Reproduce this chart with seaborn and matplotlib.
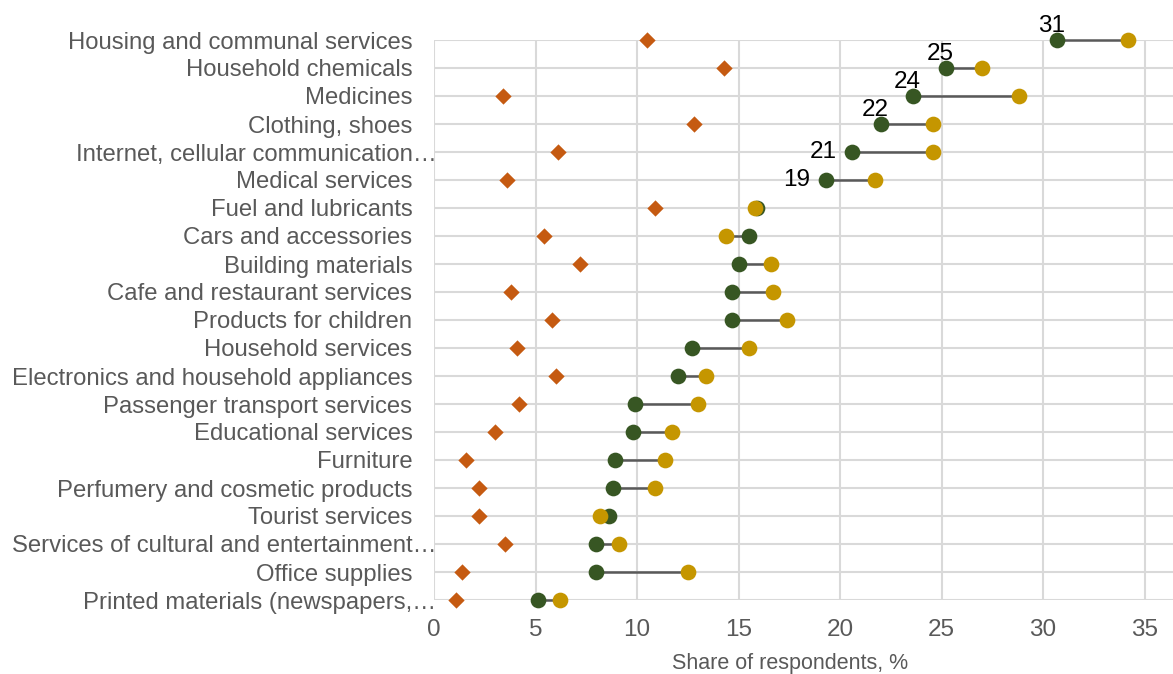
import matplotlib
matplotlib.use("Agg")
import matplotlib.pyplot as plt
import matplotlib.transforms as mtransforms
import seaborn as sns
import pandas as pd
import numpy as np

categories = [
    "Housing and communal services",
    "Household chemicals",
    "Medicines",
    "Clothing, shoes",
    "Internet, cellular communication…",
    "Medical services",
    "Fuel and lubricants",
    "Cars and accessories",
    "Building materials",
    "Cafe and restaurant services",
    "Products for children",
    "Household services",
    "Electronics and household appliances",
    "Passenger transport services",
    "Educational services",
    "Furniture",
    "Perfumery and cosmetic products",
    "Tourist services",
    "Services of cultural and entertainment…",
    "Office supplies",
    "Printed materials (newspapers,…",
]
green_vals = [30.7, 25.2, 23.6, 22.0, 20.6, 19.3, 15.9, 15.5, 15.0, 14.7, 14.7,
              12.7, 12.0, 9.9, 9.8, 8.9, 8.8, 8.6, 8.0, 8.0, 5.1]
gold_vals = [34.2, 27.0, 28.8, 24.6, 24.6, 21.7, 15.8, 14.4, 16.6, 16.7, 17.4,
             15.5, 13.4, 13.0, 11.7, 11.4, 10.9, 8.2, 9.1, 12.5, 6.2]
diamond_vals = [10.5, 14.3, 3.4, 12.8, 6.1, 3.6, 10.9, 5.4, 7.2, 3.8, 5.8,
                4.1, 6.0, 4.2, 3.0, 1.6, 2.2, 2.2, 3.5, 1.4, 1.1]
labeled_rows = [0, 1, 2, 3, 4, 5]
x_ticks = [0, 5, 10, 15, 20, 25, 30, 35]
x_label = "Share of respondents, %"

GREEN = "#375623"
GOLD = "#C59600"
ORANGE = "#C55A11"
GRID = "#D9D9D9"
TXT = "#595959"

df = pd.DataFrame({"category": categories, "green": green_vals,
                   "gold": gold_vals, "diamond": diamond_vals})

sns.set_theme(style="white")
plt.rcParams["font.family"] = ["Liberation Sans", "DejaVu Sans"]

W, H = 1173, 674
fig = plt.figure(figsize=(W / 100, H / 100), dpi=100)
left = 434 / W
top = 1 - 40 / H
bottom = 1 - 600 / H
ax = fig.add_axes([left, bottom, 1 - left, top - bottom])

ypos = np.arange(len(categories))
ax.hlines(ypos, df["green"], df["gold"], color=TXT, lw=1.8, zorder=3)

sns.stripplot(data=df, x="diamond", y="category", orient="h", jitter=False,
              marker="D", color=ORANGE, size=8.3, linewidth=0, ax=ax, zorder=4)
sns.stripplot(data=df, x="green", y="category", orient="h", jitter=False,
              marker="o", color=GREEN, size=11.3, linewidth=0, ax=ax, zorder=5)
sns.stripplot(data=df, x="gold", y="category", orient="h", jitter=False,
              marker="o", color=GOLD, size=11.3, linewidth=0, ax=ax, zorder=6)

for coll in ax.collections:
    coll.set_clip_on(False)

ax.set_xlim(0, (W - 434) / 20.3)
ax.set_ylim(len(categories) - 1, 0)
ax.set_xticks(x_ticks)
ax.set_xticklabels([str(t) for t in x_ticks])
ax.set_yticks(ypos)
ax.set_yticklabels(categories)

ax.grid(True, color=GRID, lw=1.5, zorder=0)
ax.set_axisbelow(True)
for s in ax.spines.values():
    s.set_visible(False)

ax.tick_params(axis="y", length=0, pad=15.5, labelsize=17.2, labelcolor=TXT)
ax.tick_params(axis="x", length=5, width=1.5, color=GRID, pad=9,
               labelsize=17.5, labelcolor=TXT)

ax.set_xlabel(x_label, fontsize=15.5, color=TXT)
ax.set_ylabel("")
ax.xaxis.set_label_coords((790 - 434) / (W - 434), -(653 - 600) / 560)
ax.xaxis.label.set_va("top")

fig.canvas.draw()
for lab in ax.get_yticklabels():
    if lab.get_text().endswith("…"):
        lab.set_transform(lab.get_transform() +
                          mtransforms.ScaledTranslation(24 / 100, 0, fig.dpi_scale_trans))

for i in labeled_rows:
    v = green_vals[i]
    if i < 4:
        ax.annotate(f"{v:.0f}", (v, i), xytext=(-4, 10), textcoords="offset points",
                    ha="center", va="center", fontsize=17.5, color="black", zorder=7)
    else:
        ax.annotate(f"{v:.0f}", (v, i), xytext=(-11, 0), textcoords="offset points",
                    ha="right", va="center", fontsize=17.5, color="black", zorder=7)

fig.savefig("out.png", dpi=100)
